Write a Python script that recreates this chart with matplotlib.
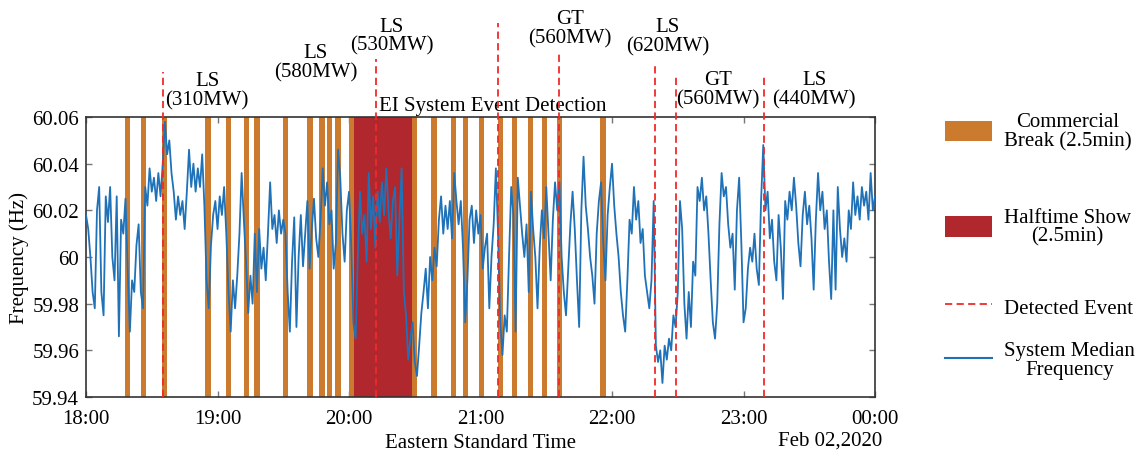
""" Grid frequency during the game, with commercial breaks and detected events """

import numpy as np
import matplotlib
matplotlib.use('Agg')
import matplotlib.pyplot as plt
from matplotlib.patches import Patch
from matplotlib.lines import Line2D
from matplotlib.ticker import FuncFormatter
from matplotlib.transforms import blended_transform_factory

plt.rcParams['font.family'] = ['Liberation Serif', 'DejaVu Serif']
plt.rcParams['font.size'] = 15

# System median frequency (Hz), one sample per minute starting at 18:00
freq = [
    60.018, 60.012, 60.000, 59.985, 59.978, 60.020, 60.030, 59.985, 59.975, 60.026,
    60.015, 60.030, 60.000, 59.990, 60.026, 59.966, 60.016, 60.010, 60.025, 59.995,
    59.968, 59.990, 59.985, 60.005, 60.014, 59.985, 59.978, 60.030, 60.022, 60.038,
    60.028, 60.034, 60.024, 60.036, 60.026, 60.040, 60.058, 60.044, 60.050, 60.036,
    60.028, 60.016, 60.026, 60.018, 60.024, 60.012, 60.028, 60.046, 60.030, 60.040,
    60.028, 60.038, 60.030, 60.044, 60.022, 59.990, 59.978, 60.005, 60.018, 60.024,
    60.012, 60.026, 60.018, 60.030, 60.010, 59.985, 59.968, 59.990, 59.978, 59.992,
    60.010, 60.036, 60.016, 59.998, 59.976, 59.992, 59.980, 60.010, 59.985, 60.012,
    59.995, 60.004, 59.990, 60.010, 60.032, 60.012, 60.018, 60.006, 60.020, 60.010,
    60.016, 60.010, 59.985, 59.968, 59.998, 60.017, 59.970, 60.000, 60.018, 59.996,
    60.010, 60.024, 59.995, 60.012, 60.025, 60.008, 60.000, 60.016, 60.038, 60.022,
    60.032, 60.014, 60.020, 59.995, 60.006, 60.046, 60.034, 60.010, 59.998, 60.020,
    60.028, 60.005, 59.972, 59.965, 60.000, 60.028, 60.010, 60.018, 59.998, 60.036,
    60.012, 60.026, 60.004, 60.028, 60.015, 60.032, 60.018, 60.038, 60.020, 60.008,
    60.024, 60.030, 59.992, 60.016, 60.038, 59.985, 59.975, 59.956, 59.965, 59.972,
    59.955, 59.949, 59.962, 59.976, 59.985, 59.995, 59.978, 60.000, 59.990, 60.004,
    59.996, 60.016, 60.026, 60.010, 60.022, 60.012, 60.024, 60.008, 60.036, 60.024,
    60.014, 60.024, 60.004, 59.972, 59.990, 60.016, 60.022, 60.006, 60.020, 60.010,
    60.018, 59.995, 60.004, 60.010, 59.978, 60.000, 60.014, 60.038, 60.010, 59.972,
    59.958, 59.975, 59.968, 60.000, 60.030, 60.018, 59.968, 60.034, 60.022, 60.010,
    60.000, 60.014, 59.985, 60.028, 60.012, 60.000, 59.978, 60.004, 60.020, 60.008,
    60.030, 60.010, 59.990, 60.016, 60.032, 60.020, 60.032, 60.000, 59.985, 59.975,
    59.995, 60.014, 60.028, 60.012, 59.990, 59.970, 60.020, 60.043, 60.022, 60.012,
    60.000, 59.992, 59.980, 60.010, 60.024, 60.032, 60.006, 59.990, 60.018, 60.030,
    60.040, 60.022, 60.010, 60.000, 59.985, 59.975, 59.968, 59.990, 60.016, 60.010,
    60.030, 60.016, 60.024, 60.006, 60.012, 59.992, 59.985, 59.978, 59.990, 60.024,
    59.962, 59.955, 59.960, 59.946, 59.962, 59.956, 59.965, 59.960, 59.975, 59.970,
    59.985, 60.024, 60.012, 59.980, 59.965, 59.985, 59.970, 59.998, 59.992, 60.030,
    60.024, 60.034, 60.020, 60.026, 60.010, 59.990, 59.972, 59.965, 59.980, 60.014,
    60.036, 60.026, 60.030, 60.014, 60.004, 60.010, 59.986, 60.020, 60.034, 60.006,
    59.972, 59.978, 59.995, 60.004, 59.998, 60.010, 59.995, 59.988, 60.024, 60.048,
    60.020, 60.028, 60.008, 60.016, 59.998, 59.990, 60.018, 60.004, 59.982, 60.024,
    60.016, 60.028, 60.020, 60.034, 60.022, 60.006, 59.996, 60.018, 60.028, 60.014,
    60.022, 60.008, 59.986, 60.016, 60.036, 60.020, 60.028, 60.012, 60.020, 59.998,
    59.982, 60.020, 59.986, 60.030, 60.012, 60.000, 60.008, 59.998, 60.020, 60.012,
    60.032, 60.018, 60.026, 60.016, 60.030, 60.022, 60.028, 60.016, 60.036, 60.020,
    60.026,
]

# Commercial breaks: start, minutes after 18:00
break_start = [17.6, 25.0, 34.5, 54.5, 63.8, 72.0, 76.8, 89.8, 101.0, 106.5,
               109.9, 113.8, 119.9, 148.6, 157.5, 166.5, 172.0, 179.2, 187.8,
               194.2, 201.5, 208.0, 214.8, 234.6]
break_len = 2.5
halftime = [122.3, 148.7]

# Detected events (minutes after 18:00) and their annotations
event_min = [35.1, 132.3, 188.0, 215.8, 259.6, 269.2, 309.4]
event_text = ['LS\n(310MW)', 'LS\n(580MW)', 'LS\n(530MW)', 'GT\n(560MW)',
              'LS\n(620MW)', 'GT\n(560MW)', 'LS\n(440MW)']
event_top = [1.161, 1.207, 1.336, 1.232, 1.189, 1.150, 1.150]
text_x = [55.2, 104.9, 139.6, 220.8, 265.5, 288.4, 332.2]
text_y = [1.095, 1.197, 1.29, 1.316, 1.288, 1.10, 1.10]

hour_ticks = [0, 60, 120, 180, 240, 300, 360]
hour_labels = ['18:00', '19:00', '20:00', '21:00', '22:00', '23:00', '00:00']
freq_ticks = [59.94, 59.96, 59.98, 60.00, 60.02, 60.04, 60.06]

C_BREAK = '#cc7a2e'
C_HALF = '#b0272d'
C_EVENT = '#ee2b2b'
C_FREQ = '#1f72b8'
EVENT_DASH = (0, (4, 2.4))

fig = plt.figure(figsize=(11.41, 4.52), dpi=100)
ax = fig.add_axes([0.0754, 0.1195, 0.6915, 0.6194])

minutes = np.arange(len(freq))
ax.axvspan(halftime[0], halftime[1], color=C_HALF, lw=0, zorder=1)
for s in break_start:
    ax.axvspan(s, s + break_len, color=C_BREAK, lw=0, zorder=2)
ax.plot(minutes, freq, color=C_FREQ, lw=1.3, zorder=3)
for m, top in zip(event_min, event_top):
    ax.axvline(m, ymin=0, ymax=top, color=C_EVENT, ls=EVENT_DASH, lw=1.3,
               clip_on=False, zorder=4)

trans = blended_transform_factory(ax.transData, ax.transAxes)
for x, y, s in zip(text_x, text_y, event_text):
    ax.text(x, y, s, transform=trans, ha='center', va='center',
            linespacing=1.0, multialignment='center')
ax.text(185.7, 1.04, 'EI System Event Detection', transform=trans,
        ha='center', va='center')

ax.set_xlim(0, 360)
ax.set_ylim(59.94, 60.06)
ax.set_xticks(hour_ticks)
ax.set_xticklabels(hour_labels)
ax.set_yticks(freq_ticks)
ax.yaxis.set_major_formatter(FuncFormatter(lambda v, _: f'{v:g}'))
ax.tick_params(direction='in', top=True, right=True, length=4, width=1,
               color='#777777', pad=5)
ax.tick_params(axis='x', pad=9)
for sp in ax.spines.values():
    sp.set_linewidth(1.2)
    sp.set_color('#333333')

ax.set_xlabel('Eastern Standard Time', labelpad=3)
ax.set_ylabel('Frequency (Hz)', labelpad=2)
ax.text(0.943, -0.155, 'Feb 02,2020', transform=ax.transAxes,
        ha='center', va='center')

# Legend, one entry at a time to keep the spacing of the original
handles = [
    Patch(facecolor=C_BREAK),
    Patch(facecolor=C_HALF),
    Line2D([], [], color=C_EVENT, ls=EVENT_DASH, lw=1.3),
    Line2D([], [], color=C_FREQ, lw=1.5),
]
labels = ['Commercial\nBreak (2.5min)', 'Halftime Show\n(2.5min)',
          'Detected Event', 'System Median\nFrequency']
leg_y = [0.708, 0.496, 0.319, 0.201]
for h, lab, y in zip(handles, labels, leg_y):
    leg = fig.legend([h], [lab], loc='center left', bbox_to_anchor=(0.828, y),
                     frameon=False, borderpad=0, borderaxespad=0,
                     handlelength=2.25, handleheight=1.15, handletextpad=0.6)
    for t in leg.get_texts():
        t.set_multialignment('center')
        t.set_linespacing(1.0)

fig.savefig('out.png', dpi=100)
